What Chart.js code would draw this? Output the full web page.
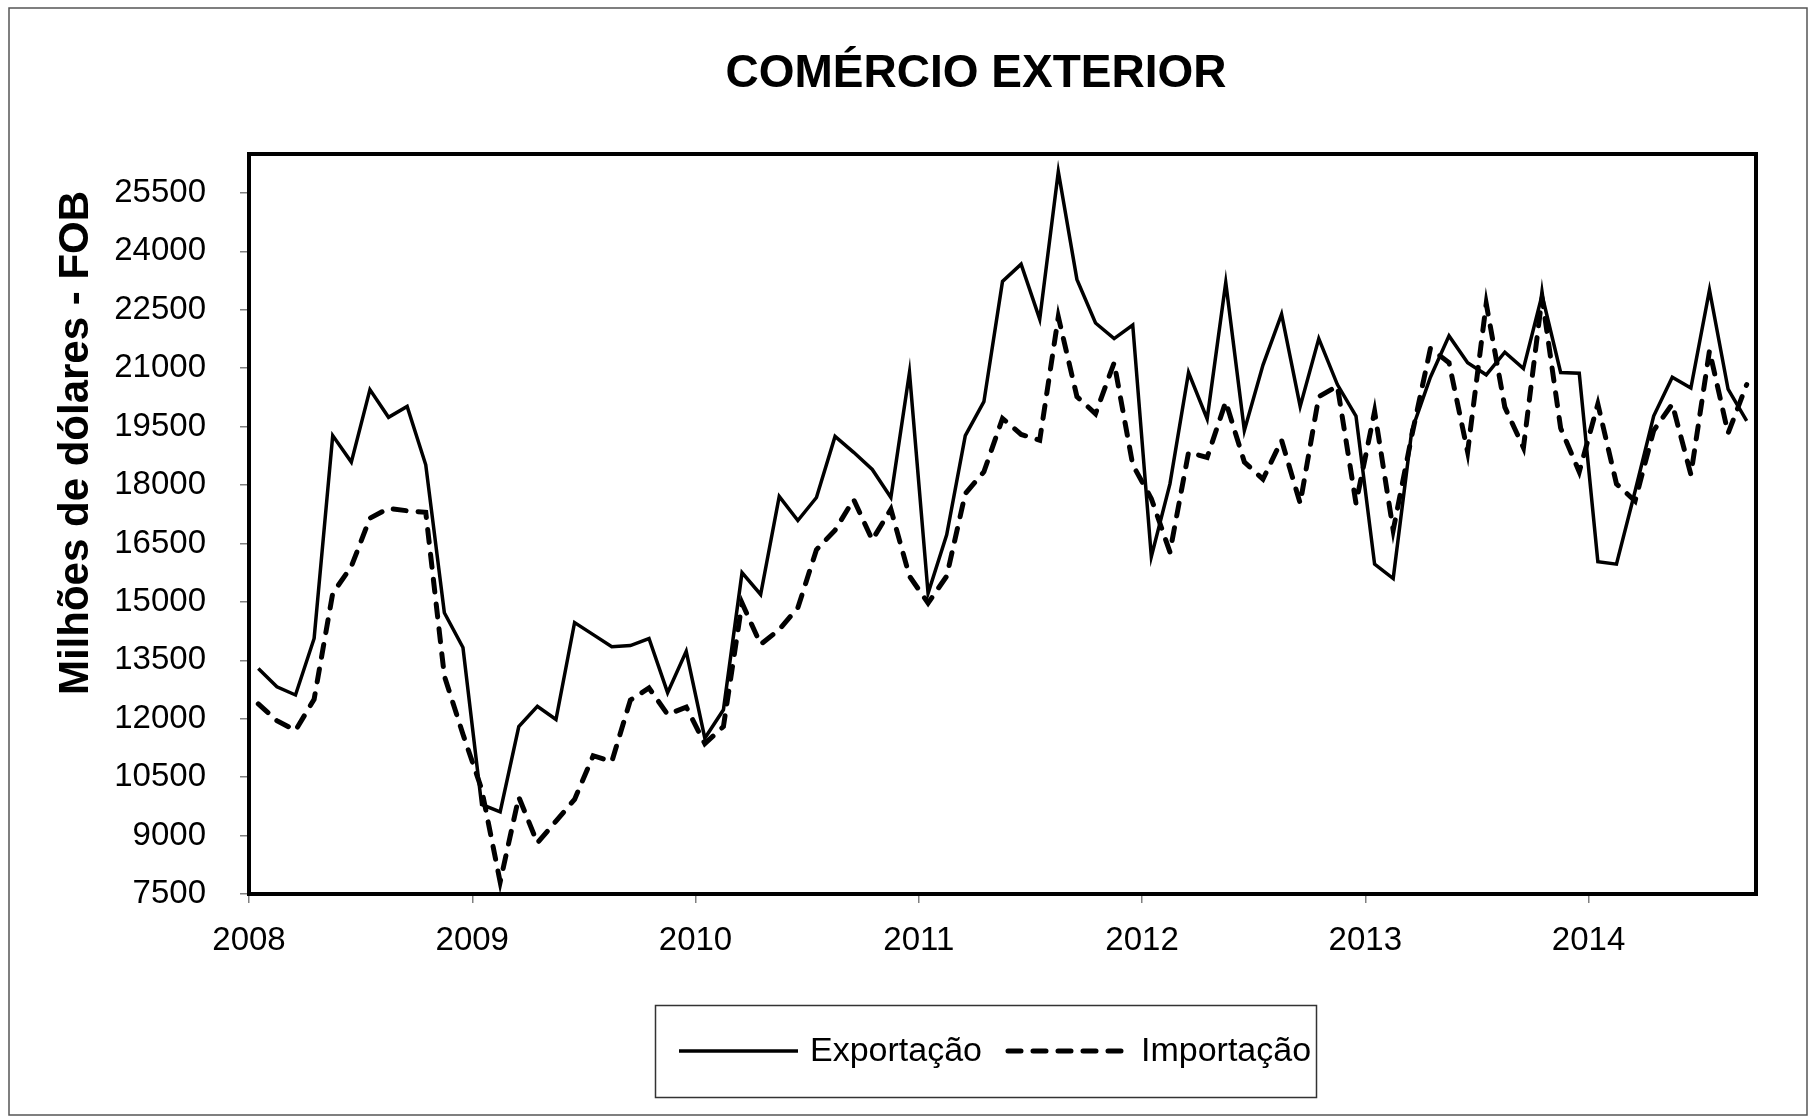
<!DOCTYPE html>
<html>
<head>
<meta charset="utf-8">
<title>Comércio Exterior</title>
<script src="https://cdn.jsdelivr.net/npm/chart.js@4/dist/chart.umd.min.js"></script>
<style>
  html, body { margin: 0; padding: 0; background: #fff; }
  canvas { display: block; }
</style>
</head>
<body>
<canvas id="grafico" width="1816" height="1118"></canvas>
<script>
// valores mensais (jan/2008 a set/2014), milhões de dólares FOB
const exportacao = [
  13290, 12820, 12610, 14060, 19270, 18590, 20450, 19740, 20020, 18520, 14720, 13830,
  9800, 9610, 11800, 12320, 11980, 14470, 14160, 13850, 13880, 14060, 12670, 13730,
  11500, 12230, 15750, 15190, 17710, 17090, 17680, 19250, 18840, 18400, 17680, 20890,
  15220, 16720, 19270, 20140, 23230, 23670, 22260, 26050, 23280, 22160, 21760, 22110,
  16160, 18030, 20890, 19700, 23200, 19400, 21080, 22390, 20020, 21760, 20580, 19770,
  15970, 15600, 19400, 20770, 21830, 21140, 20830, 21410, 20990, 22880, 20890, 20870,
  16030, 15970, 17840, 19770, 20770, 20490, 23010, 20460, 19650
];
const importacao = [
  12380, 11950, 11700, 12500, 15220, 15910, 17150, 17400, 17340, 17300, 13100, 11600,
  10200, 7810, 9990, 8810, 9370, 9930, 11050, 10900, 12480, 12790, 12110, 12300,
  11360, 11800, 14970, 13910, 14290, 14850, 16340, 16840, 17630, 16590, 17380, 15660,
  14970, 15660, 17780, 18340, 19710, 19300, 19150, 22320, 20270, 19830, 21140, 18520,
  17650, 16280, 18840, 18710, 20140, 18590, 18150, 19150, 17530, 20270, 20540, 17530,
  19890, 16840, 19270, 21510, 21140, 18850, 22660, 20000, 18960, 22820, 19460, 18340,
  20080, 18030, 17590, 19400, 20080, 18270, 21450, 19330, 20580
];
const anos = ['2008', '2009', '2010', '2011', '2012', '2013', '2014'];
const ticksY = [7500, 9000, 10500, 12000, 13500, 15000, 16500, 18000, 19500, 21000, 22500, 24000, 25500];

const fonte = "'Liberation Sans', Arial, sans-serif";
const tracejado = [13, 12];

// cada mês ocupa uma faixa; o ponto fica no meio dela
const pontos = serie => serie.map((v, i) => ({ x: i + 0.5, y: v }));

const decor = {
  id: 'decor',
  beforeDraw(chart) {
    const ctx = chart.ctx;
    ctx.save();
    ctx.fillStyle = '#fff';
    ctx.fillRect(0, 0, chart.width, chart.height);
    ctx.strokeStyle = '#555';
    ctx.lineWidth = 1.5;
    ctx.strokeRect(9, 8, 1798, 1107);
    ctx.restore();
  },
  afterDatasetsDraw(chart) {
    const a = chart.chartArea;
    const ctx = chart.ctx;
    ctx.save();
    ctx.strokeStyle = '#000';
    ctx.lineWidth = 4;
    ctx.strokeRect(a.left, a.top, a.right - a.left, a.bottom - a.top);
    ctx.restore();
  },
  afterDraw(chart) {
    const ctx = chart.ctx;
    ctx.save();
    ctx.fillStyle = '#000';
    ctx.textAlign = 'center';
    ctx.textBaseline = 'middle';
    ctx.font = 'bold 46px ' + fonte;
    ctx.fillText('COMÉRCIO EXTERIOR', 976, 74);

    ctx.save();
    ctx.translate(76, 443);
    ctx.rotate(-Math.PI / 2);
    ctx.font = 'bold 42px ' + fonte;
    ctx.fillText('Milhões de dólares - FOB', 0, 0);
    ctx.restore();

    // legenda
    ctx.strokeStyle = '#333';
    ctx.lineWidth = 1.5;
    ctx.strokeRect(655.5, 1005.5, 661, 92);

    ctx.strokeStyle = '#000';
    ctx.lineWidth = 3.5;
    ctx.beginPath();
    ctx.moveTo(679, 1051);
    ctx.lineTo(798, 1051);
    ctx.stroke();

    ctx.lineWidth = 5;
    ctx.lineCap = 'round';
    ctx.setLineDash(tracejado);
    ctx.beginPath();
    ctx.moveTo(1008, 1051);
    ctx.lineTo(1128, 1051);
    ctx.stroke();
    ctx.setLineDash([]);

    ctx.textAlign = 'left';
    ctx.font = '34px ' + fonte;
    ctx.fillText('Exportação', 810, 1052);
    ctx.fillText('Importação', 1141, 1052);
    ctx.restore();
  }
};

const eixoGrid = {
  drawOnChartArea: false,
  drawTicks: true,
  tickLength: 9,
  color: '#808080',
  lineWidth: 1.5
};

new Chart(document.getElementById('grafico'), {
  type: 'line',
  data: {
    datasets: [
      {
        label: 'Exportação',
        data: pontos(exportacao),
        borderColor: '#000',
        borderWidth: 3.5,
        pointRadius: 0,
        tension: 0,
        order: 1
      },
      {
        label: 'Importação',
        data: pontos(importacao),
        borderColor: '#000',
        borderWidth: 5,
        borderDash: tracejado,
        borderCapStyle: 'round',
        pointRadius: 0,
        tension: 0,
        order: 0
      }
    ]
  },
  options: {
    responsive: false,
    animation: false,
    layout: { padding: { left: 0, right: 60, top: 154, bottom: 164 } },
    plugins: {
      legend: { display: false },
      title: { display: false },
      tooltip: { enabled: false }
    },
    scales: {
      x: {
        type: 'linear',
        min: 0,
        max: 81,
        afterFit: s => { s.height = 60; },
        afterBuildTicks: s => { s.ticks = anos.map((a, i) => ({ value: i * 12 })); },
        grid: eixoGrid,
        border: { display: false },
        ticks: {
          autoSkip: false,
          maxRotation: 0,
          padding: 18,
          color: '#000',
          font: { family: fonte, size: 33 },
          callback: v => anos[v / 12]
        }
      },
      y: {
        min: 7500,
        max: 26500,
        afterFit: s => { s.width = 249; },
        afterBuildTicks: s => { s.ticks = ticksY.map(v => ({ value: v })); },
        grid: eixoGrid,
        border: { display: false },
        ticks: {
          autoSkip: false,
          padding: 34,
          color: '#000',
          font: { family: fonte, size: 33 },
          callback: v => String(v)
        }
      }
    }
  },
  plugins: [decor]
});
</script>
</body>
</html>
